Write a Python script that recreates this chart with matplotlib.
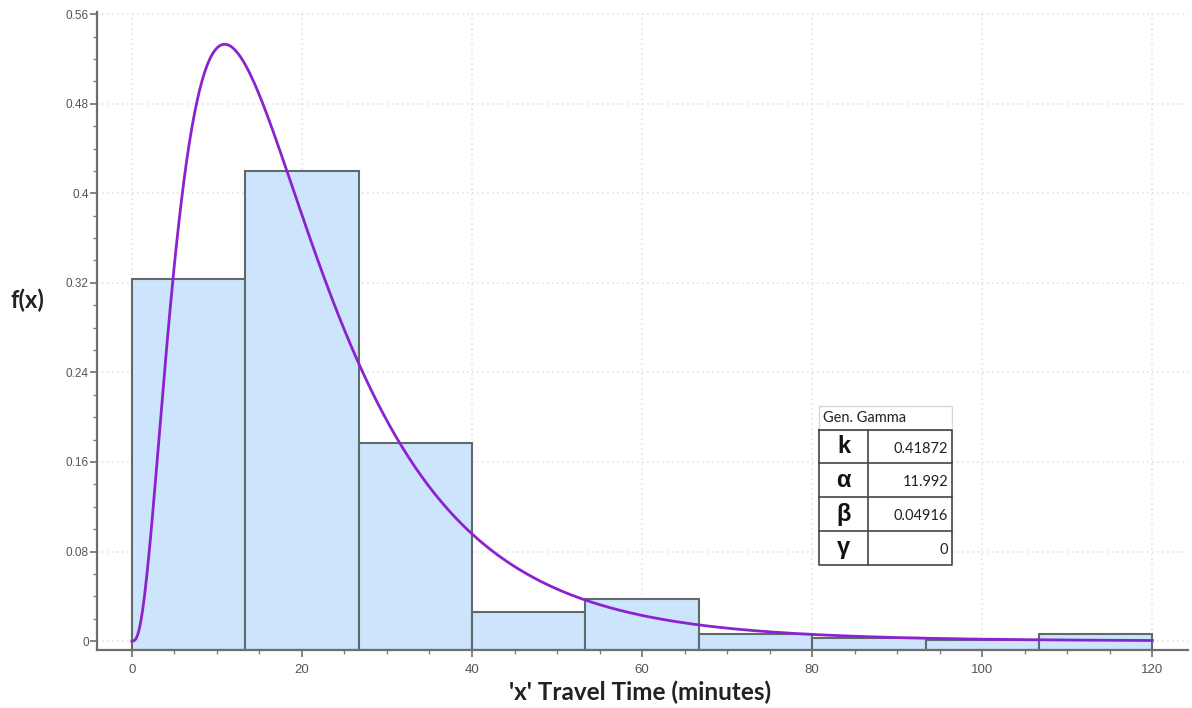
import math
import numpy as np
import matplotlib
matplotlib.use("Agg")
from matplotlib import pyplot as plt
from matplotlib.ticker import MultipleLocator

# histogram of travel times: 9 equal bins between 0 and 120 minutes
bin_edges = np.linspace(0, 120, 10)
bin_probs = [0.3231, 0.4198, 0.1771, 0.0256, 0.0375, 0.0060, 0.0025, 0.0008, 0.0060]

# fitted generalized gamma parameters
param_names = ["k", "α", "β", "γ"]
param_values = ["0.41872", "11.992", "0.04916", "0"]
k, alpha, beta, gamma = 0.41872, 11.992, 0.04916, 0.0

x_ticks = [0, 20, 40, 60, 80, 100, 120]
y_ticks = [0, 0.08, 0.16, 0.24, 0.32, 0.4, 0.48, 0.56]
y_tick_labels = ["0", "0.08", "0.16", "0.24", "0.32", "0.4", "0.48", "0.56"]


def gen_gamma_pdf(x):
    z = np.clip(x - gamma, 1e-12, None)
    y = (z / beta) ** k
    return k * np.exp(alpha * np.log(y) - y - math.lgamma(alpha)) / z


plt.rcParams["font.family"] = ["Liberation Sans", "DejaVu Sans"]
label_font = ["Lato", "DejaVu Sans"]

fig = plt.figure(figsize=(11.92, 7.08), dpi=100)
ax = fig.add_axes([97 / 1192, 58 / 708, 1091 / 1192, 638 / 708])

ymin, ymax = -0.008, 0.562
ax.set_xlim(-4.1, 124.2)
ax.set_ylim(ymin, ymax)

# bars start at the bottom of the axis, like the original software does
width = bin_edges[1] - bin_edges[0]
heights = np.array(bin_probs) - ymin
ax.bar(bin_edges[:-1], heights, width=width, bottom=ymin, align="edge",
       color="#cce5fc", edgecolor="#5f6b6b", linewidth=1.5, zorder=2)

# density scaled to bin width so it sits on the same scale as the bars
xs = np.linspace(0, 120, 800)
ax.plot(xs, gen_gamma_pdf(xs) * width, color="#8c22cf", linewidth=2, zorder=3)

ax.set_xticks(x_ticks)
ax.set_yticks(y_ticks)
ax.set_yticklabels(y_tick_labels)
ax.xaxis.set_minor_locator(MultipleLocator(5))
ax.yaxis.set_minor_locator(MultipleLocator(0.02))
ax.tick_params(axis="both", which="major", direction="out", length=5, width=1.2,
               color="#707070", labelcolor="#555555")
ax.tick_params(axis="x", labelsize=9.5, pad=5)
ax.tick_params(axis="y", labelsize=8.5, pad=1)
ax.tick_params(which="minor", direction="out", length=3, width=1, color="#808080")

for side in ["top", "right"]:
    ax.spines[side].set_visible(False)
for side in ["left", "bottom"]:
    ax.spines[side].set_color("#6e6e6e")
    ax.spines[side].set_linewidth(1.6)

ax.grid(True, which="major", linestyle=(0, (1, 2)), color="#e4e4e4", linewidth=1.2, zorder=0)
ax.set_axisbelow(True)

fig.text(27 / 1192, 1 - 300 / 708, "f(x)", fontsize=17, fontweight="bold",
         family=label_font, ha="center", va="center", color="#222222")
fig.text(640 / 1192, 1 - 692 / 708, "'x' Travel Time (minutes)", fontsize=17.5,
         fontweight="bold", family=label_font, ha="center", va="center", color="#222222")

# parameter box drawn in its own pixel-sized axes
tab = fig.add_axes([818 / 1192, (708 - 566) / 708, 135 / 1192, 161 / 708])
tab.set_xlim(-1, 136)
tab.set_ylim(162, -1)
tab.axis("off")
tab.add_patch(plt.Rectangle((0, 0), 135, 161, facecolor="white", edgecolor="none"))
tab.plot([0, 135, 135, 0, 0], [0, 0, 24, 24, 0], color="#d8d8d8", lw=1)
tab.text(4, 12.5, "Gen. Gamma", fontsize=10.5, family=label_font, va="center", ha="left",
         color="#222222")
row_top = 24
row_h = 34.2
tab.plot([0, 135, 135, 0, 0], [row_top, row_top, 161, 161, row_top], color="#444444", lw=1.2)
tab.plot([50, 50], [row_top, 161], color="#444444", lw=1.2)
for i, (name, val) in enumerate(zip(param_names, param_values)):
    yc = row_top + row_h * (i + 0.5)
    if i > 0:
        tab.plot([0, 135], [row_top + row_h * i] * 2, color="#444444", lw=1.2)
    tab.text(25, yc, name, fontsize=17, fontweight="bold", ha="center", va="center",
             color="#111111")
    tab.text(131, yc + 2, val, fontsize=10.5, family=label_font, ha="right", va="center",
             color="#222222")

fig.savefig("out.png", dpi=100)
